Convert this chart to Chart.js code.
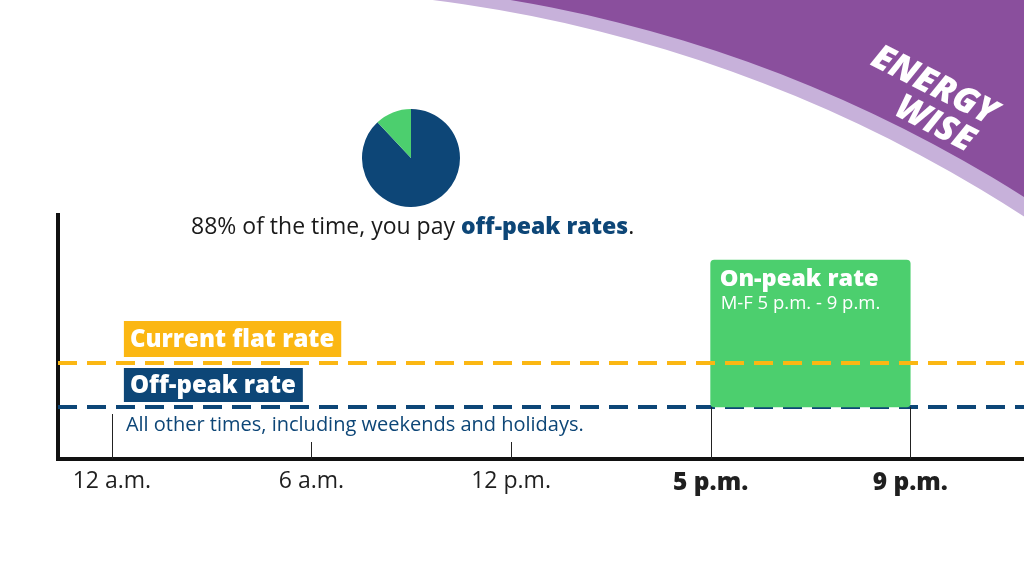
<!DOCTYPE html>
<html>
<head>
<meta charset="utf-8">
<script src="https://cdn.jsdelivr.net/npm/chart.js@4.4.1/dist/chart.umd.min.js"></script>
<style>
html, body { margin: 0; padding: 0; background: #fff; overflow: hidden; }
#wrap { position: relative; width: 1024px; height: 569px; }
#main { position: absolute; left: 0; top: 0; }
#pie { position: absolute; left: 361px; top: 108px; }
#caption { position: absolute; left: 191px; top: 209px; font: 23px "Open Sans", sans-serif; color: #1a1a1a; white-space: nowrap; }
#caption b { color: #0d4677; font-weight: 800; }
</style>
</head>
<body>
<div id="wrap">
  <canvas id="main" width="1024" height="569"></canvas>
  <canvas id="pie" width="100" height="100"></canvas>
  <div id="caption">88% of the time, you pay <b>off-peak rates</b>.</div>
</div>
<script>
// time axis (schematic, one slot per label)
var hourLabels = ['12 a.m.', '6 a.m.', '12 p.m.', '5 p.m.', '9 p.m.'];
var boldHours = [false, false, false, true, true];
var tickReach = [4.5, 1.7, 1.7, 5.2, 5.2];
var xRange = [-0.27, 4.57];

// rates (arbitrary units)
var offPeakRate = 5.2;
var flatRate = 9.6;
var onPeakRate = 19.9;
var onPeakSlots = [3, 4];
var yMax = 24.4;

// share of the week
var shareLabels = ['Off-peak', 'On-peak'];
var timeShare = [88, 12];

var navy = '#0d4677';
var yellow = '#fbb713';
var green = '#4ccf6e';
var purple = '#8a4f9d';
var lavender = '#c7b1da';
var FONT = '"Open Sans"';

function ringFill(ctx, cx, cy, r, color) {
    ctx.save();
    ctx.beginPath();
    ctx.rect(300, 0, 724, 569);
    ctx.clip();
    ctx.beginPath();
    ctx.rect(300, 0, 724, 569);
    ctx.arc(cx, cy, r, 0, Math.PI * 2);
    ctx.fillStyle = color;
    ctx.fill('evenodd');
    ctx.restore();
}

var offPeakPoints = xRange.map(function(v) { return {x: v, y: offPeakRate}; });
var flatPoints = xRange.map(function(v) { return {x: v, y: flatRate}; });
var onPeakBlock = [{x: (onPeakSlots[0] + onPeakSlots[1]) / 2, y: [offPeakRate, onPeakRate]}];

var decor = {
    id: 'decor',
    beforeDraw: function(chart) {
        var ctx = chart.ctx;
        ctx.save();
        ringFill(ctx, 257, 1396, 1407, lavender);
        ringFill(ctx, 282, 1363, 1382, purple);
        // logo
        ctx.translate(934, 86);
        ctx.rotate(27 * Math.PI / 180);
        ctx.fillStyle = '#fff';
        ctx.textAlign = 'center';
        ctx.textBaseline = 'middle';
        ctx.font = 'italic 800 35px ' + FONT;
        ctx.fillText('ENERGY', 0, 0);
        ctx.fillText('WISE', 18, 34);
        ctx.restore();
    },
    afterDatasetsDraw: function(chart) {
        var x = chart.scales.x, y = chart.scales.y, ctx = chart.ctx;
        ctx.save();
        // make sure the flat-rate line ends up above the on-peak block
        var flatMeta = chart.getDatasetMeta(0);
        if (flatMeta.dataset) flatMeta.dataset.draw(ctx, chart.chartArea);
        // tick marks
        ctx.strokeStyle = '#222';
        ctx.lineWidth = 1;
        ctx.setLineDash([]);
        hourLabels.forEach(function(lbl, i) {
            var px = Math.round(x.getPixelForValue(i)) + 0.5;
            ctx.beginPath();
            ctx.moveTo(px, y.getPixelForValue(0));
            ctx.lineTo(px, y.getPixelForValue(tickReach[i]));
            ctx.stroke();
        });
        // on-peak block text
        var l = x.getPixelForValue(onPeakSlots[0]), t = y.getPixelForValue(onPeakRate);
        ctx.fillStyle = '#fff';
        ctx.textBaseline = 'alphabetic';
        ctx.font = '800 23.5px ' + FONT;
        ctx.fillText('On-peak rate', l + 9, t + 26);
        ctx.font = '18.5px ' + FONT;
        ctx.fillText('M-F 5 p.m. - 9 p.m.', l + 10, t + 49);
        // rate labels
        var left = x.getPixelForValue(0) + 12;
        var fy = y.getPixelForValue(flatRate), oy = y.getPixelForValue(offPeakRate);
        ctx.font = '800 24px ' + FONT;
        var w1 = ctx.measureText('Current flat rate').width;
        ctx.fillStyle = yellow;
        ctx.fillRect(left, fy - 42, w1 + 13, 36);
        ctx.fillStyle = '#fff';
        ctx.fillText('Current flat rate', left + 6, fy - 16);
        var w2 = ctx.measureText('Off-peak rate').width;
        ctx.fillStyle = navy;
        ctx.fillRect(left, oy - 39, w2 + 13, 34);
        ctx.fillStyle = '#fff';
        ctx.fillText('Off-peak rate', left + 6, oy - 14);
        ctx.fillStyle = navy;
        ctx.font = '20px ' + FONT;
        ctx.fillText('All other times, including weekends and holidays.', left + 2, oy + 24);
        ctx.restore();
    }
};

new Chart(document.getElementById('main'), {
    type: 'line',
    data: {
        datasets: [{
            label: 'Current flat rate',
            data: flatPoints,
            borderColor: yellow,
            borderWidth: 4,
            borderDash: [19, 10],
            pointRadius: 0,
            order: 0
        }, {
            type: 'bar',
            label: 'On-peak rate',
            data: onPeakBlock,
            backgroundColor: green,
            barPercentage: 1,
            categoryPercentage: 1,
            borderRadius: 4,
            borderSkipped: false,
            order: 1
        }, {
            label: 'Off-peak rate',
            data: offPeakPoints,
            borderColor: navy,
            borderWidth: 4,
            borderDash: [19, 10],
            pointRadius: 0,
            order: 2
        }]
    },
    options: {
        responsive: false,
        animation: false,
        layout: { padding: { left: 58, top: 215, right: 0, bottom: 0 } },
        plugins: { legend: { display: false }, tooltip: { enabled: false } },
        scales: {
            x: {
                type: 'linear',
                min: xRange[0],
                max: xRange[1],
                offset: false,
                grid: { display: false },
                border: { color: '#111', width: 4 },
                afterFit: function(s) { s.height = 110; },
                afterBuildTicks: function(s) {
                    s.ticks = hourLabels.map(function(_, i) { return {value: i}; });
                },
                ticks: {
                    autoSkip: false,
                    maxRotation: 0,
                    padding: 1,
                    color: '#1f1f1f',
                    font: function(c) {
                        return boldHours[c.index]
                            ? { family: FONT, size: 24.5, weight: '800' }
                            : { family: FONT, size: 23, weight: 'normal' };
                    },
                    callback: function(v) { return hourLabels[v]; }
                }
            },
            y: {
                min: 0,
                max: yMax,
                grid: { display: false },
                border: { color: '#111', width: 4 },
                ticks: { display: false },
                afterFit: function(s) { s.width = 0; }
            }
        }
    },
    plugins: [decor]
});

new Chart(document.getElementById('pie'), {
    type: 'pie',
    data: {
        labels: shareLabels,
        datasets: [{ data: timeShare, backgroundColor: [navy, green], borderWidth: 0 }]
    },
    options: {
        responsive: false,
        animation: false,
        layout: { padding: 1 },
        plugins: { legend: { display: false }, tooltip: { enabled: false } }
    }
});
</script>
</body>
</html>
